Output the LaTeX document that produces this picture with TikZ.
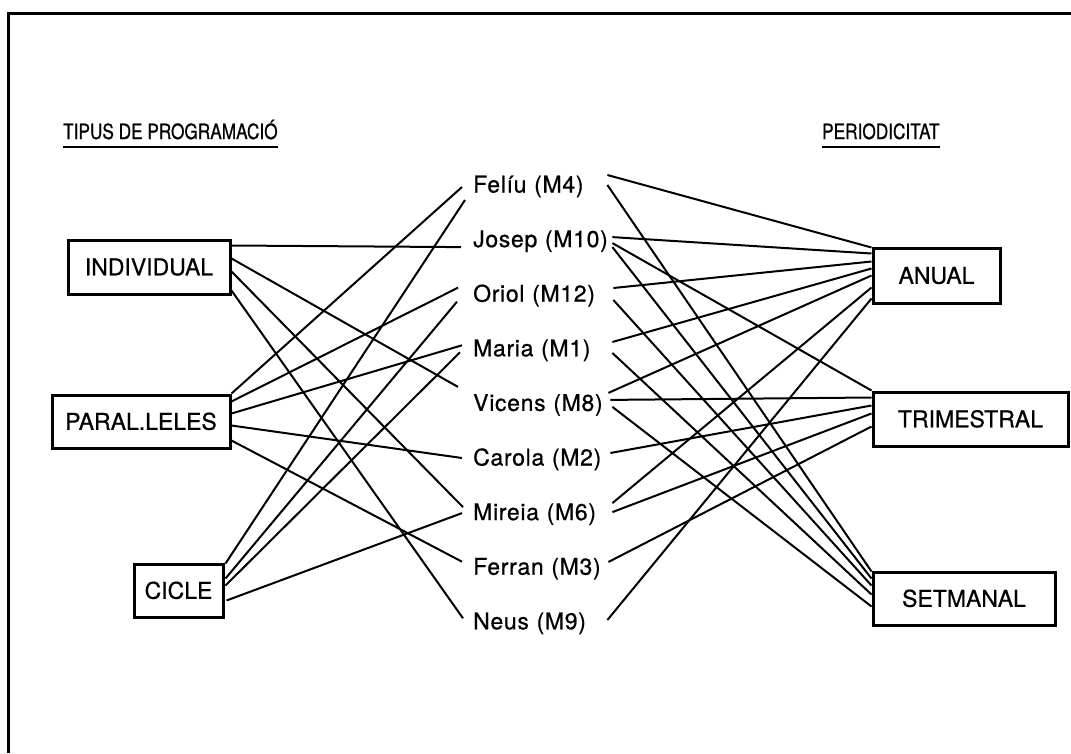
\documentclass[tikz,border=0pt]{standalone}
\usepackage{fontspec}
\setmainfont{TeX Gyre Heros}[FakeBold=0.7]
\newfontfamily\headfont{TeX Gyre Heros}[FakeBold=0.7,FakeStretch=0.82]
\usetikzlibrary{calc}
\begin{document}
\begin{tikzpicture}[x=1pt,y=-1pt,
  catbox/.style={draw, line width=3pt, inner sep=0pt,
    font=\fontsize{23}{26}\selectfont, text height=16.5pt, text depth=0pt},
  teacher/.style={anchor=west, inner sep=0pt, text width=137pt, align=left,
    font=\addfontfeatures{LetterSpace=3}\fontsize{23}{26}\selectfont,
    text height=16pt, text depth=0pt},
  heading/.style={anchor=base west, inner sep=0pt, font=\headfont\fontsize{21}{24}\selectfont},
  link/.style={line width=2pt},
  frame/.style={line width=3pt}]

\useasboundingbox (0,0) rectangle (1071,753);

% page frame (left and top edges)
\draw[frame] (8,753) -- (8,13) -- (1071,13);

% column headings
\node[heading] (tipus) at (63,139) {TIPUS DE PROGRAMACIÓ};
\node[heading] (period) at (822,139) {PERIODICITAT};
\draw[line width=1.8pt] ($(tipus.base west)+(0,8)$) -- ($(tipus.base east)+(0,8)$);
\draw[line width=1.8pt] ($(period.base west)+(0,8)$) -- ($(period.base east)+(0,8)$);

% programming types
\node[catbox, minimum width=162pt, minimum height=54pt] (ind) at (149,267) {INDIVIDUAL};
\node[catbox, minimum width=178pt, minimum height=53pt] (par) at (141,421.5) {PARAL.LELES};
\node[catbox, minimum width=89pt, minimum height=53pt] (cic) at (178.5,590.5) {CICLE};

% periodicity
\node[catbox, minimum width=127pt, minimum height=55pt] (anu) at (936.5,275.5) {ANUAL};
\node[catbox, minimum width=195pt, minimum height=54pt] (tri) at (970.5,419) {TRIMESTRAL};
\node[catbox, minimum width=182pt, minimum height=53pt] (set) at (964,598.5) {SETMANAL};

% teachers
\node[teacher] (feliu)  at (473,184.5) {Felíu (M4)};
\node[teacher] (josep)  at (473,239.1) {Josep (M10)};
\node[teacher] (oriol)  at (473,293.7) {Oriol (M12)};
\node[teacher] (maria)  at (473,348.3) {Maria (M1)};
\node[teacher] (vicens) at (473,402.9) {Vicens (M8)};
\node[teacher] (carola) at (473,457.5) {Carola (M2)};
\node[teacher] (mireia) at (473,512.1) {Mireia (M6)};
\node[teacher] (ferran) at (473,566.7) {Ferran (M3)};
\node[teacher] (neus)   at (473,621.3) {Neus (M9)};

% type -> teacher
\draw[link] ($(ind.north east)+(0,7)$)  -- ($(josep.west)+(-12,8)$);
\draw[link] ($(ind.north east)+(0,20)$) -- ($(vicens.west)+(-15,-16)$);
\draw[link] ($(ind.north east)+(0,33)$) -- ($(mireia.west)+(-10,-5)$);
\draw[link] ($(ind.north east)+(0,52)$) -- ($(neus.west)+(-10,-3)$);

\draw[link] ($(par.north east)+(0,0)$)  -- ($(feliu.west)+(-11,2.5)$);
\draw[link] ($(par.north east)+(0,8)$)  -- ($(oriol.west)+(-15,-6)$);
\draw[link] ($(par.north east)+(0,20)$) -- ($(maria.west)+(-11,-3)$);
\draw[link] ($(par.north east)+(0,32)$) -- ($(carola.west)+(-11,0.5)$);
\draw[link] ($(par.north east)+(0,47)$) -- ($(ferran.west)+(-11,-5)$);

\draw[link] ($(cic.north east)+(1,1)$)  -- ($(feliu.west)+(-8,15.5)$);
\draw[link] ($(cic.north east)+(1,16)$) -- ($(oriol.west)+(-16,8)$);
\draw[link] ($(cic.north east)+(1,23)$) -- ($(maria.west)+(-13,4)$);
\draw[link] ($(cic.north east)+(2,38)$) -- ($(mireia.west)+(-11,1)$);

% teacher -> periodicity
\draw[link] ($(feliu.east)+(-3,-9.5)$) -- ($(anu.north west)+(0,1)$);
\draw[link] ($(feliu.east)+(-3,0.5)$)  -- ($(set.north west)+(0,1)$);
\draw[link] ($(josep.east)+(2,-2)$)    -- ($(anu.north west)+(0,7)$);
\draw[link] ($(josep.east)+(2,4)$)     -- ($(tri.north west)+(0,0)$);
\draw[link] ($(josep.east)+(2,8)$)     -- ($(set.north west)+(0,8)$);
\draw[link] ($(oriol.east)+(3,-5.7)$)  -- ($(anu.north west)+(0,15)$);
\draw[link] ($(oriol.east)+(3,6.3)$)   -- ($(set.north west)+(0,15)$);
\draw[link] ($(maria.east)+(2,-6.3)$)  -- ($(anu.north west)+(0,22)$);
\draw[link] ($(maria.east)+(2,4.7)$)   -- ($(set.north west)+(0,24)$);
\draw[link] ($(vicens.east)+(-2,-10)$) -- ($(anu.north west)+(0,29)$);
\draw[link] ($(vicens.east)+(0,-3)$)   -- ($(tri.north west)+(0,7)$);
\draw[link] ($(vicens.east)+(2,4)$)    -- ($(set.north west)+(0,36)$);
\draw[link] ($(carola.east)+(0,-4.5)$) -- ($(tri.north west)+(0,15)$);
\draw[link] ($(mireia.east)+(2,-9)$)   -- ($(anu.north west)+(0,41)$);
\draw[link] ($(mireia.east)+(2,0)$)    -- ($(tri.north west)+(0,23)$);
\draw[link] ($(ferran.east)+(-2,-4.7)$) -- ($(tri.north west)+(0,36)$);
\draw[link] ($(neus.east)+(-3,-1.3)$)  -- ($(anu.north west)+(0,52)$);

\end{tikzpicture}
\end{document}
